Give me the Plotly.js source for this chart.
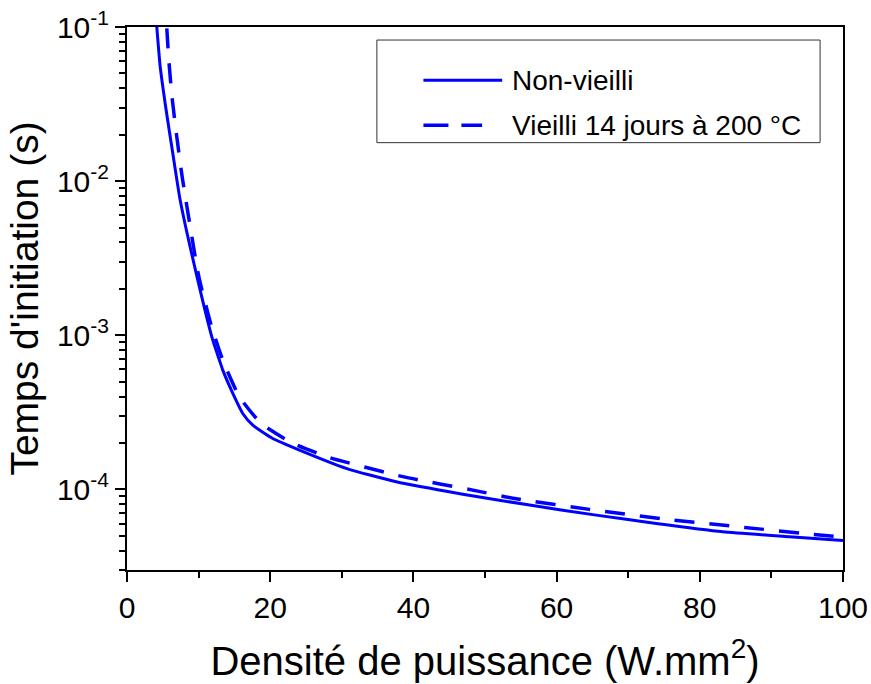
<!DOCTYPE html>
<html>
<head>
<meta charset="utf-8">
<script src="https://cdn.plot.ly/plotly-3.0.1.min.js"></script>
<style>html,body{margin:0;padding:0;background:#fff;}#chart{width:871px;height:684px;}</style>
</head>
<body>
<div id="chart"></div>
<script>
// Data
const seriesNames = ["Non-vieilli", "Vieilli 14 jours à 200 °C"];
const xSolid = [4.16, 4.64, 5.47, 6.40, 7.43, 9.57, 11.98, 12.91, 13.38, 14.78, 16.17, 17.57, 20.36, 24.09, 30.61, 37.60, 46.90, 56.22, 65.53, 73.91, 83.21, 92.53, 100];
const ySolid = [0.1, 0.0551, 0.0288, 0.0151, 0.00751, 0.00264, 9.29e-4, 6.89e-4, 5.94e-4, 4.20e-4, 3.11e-4, 2.61e-4, 2.14e-4, 1.80e-4, 1.37e-4, 1.12e-4, 9.31e-5, 7.91e-5, 6.81e-5, 6.01e-5, 5.31e-5, 4.93e-5, 4.67e-5];
const xDashed = [5.56, 5.84, 6.31, 6.96, 7.71, 9.85, 10.36, 11.75, 13.38, 15.71, 18.74, 23.16, 28.28, 38.52, 48.99, 54.36, 64.59, 75.53, 86.24, 96.72, 100];
const yDashed = [0.098, 0.0608, 0.0343, 0.0193, 0.01064, 0.00264, 0.00206, 0.001164, 6.89e-4, 3.98e-4, 2.68e-4, 1.99e-4, 1.61e-4, 1.21e-4, 9.75e-5, 8.69e-5, 7.42e-5, 6.38e-5, 5.67e-5, 5.06e-5, 4.9e-5];
const xTickVals = [0, 20, 40, 60, 80, 100];
const yTickVals = [1e-4, 1e-3, 1e-2, 1e-1];
const yTickText = ["10<sup>-4</sup>", "10<sup>-3</sup>", "10<sup>-2</sup>", "10<sup>-1</sup>"];
const xTitle = "Densité de puissance (W.mm<sup>2</sup>)";
const yTitle = "Temps d'initiation (s)";

const blue = "#0000ff";
const font = "Liberation Sans, Arial, sans-serif";

// minor tick positions on the log axis (2..9 per decade)
const yMinor = [];
for (let e = -5; e <= -2; e++) for (let m = 2; m <= 9; m++) yMinor.push(m * Math.pow(10, e));

const traces = [
  {x: xSolid, y: ySolid, name: seriesNames[0], mode: "lines", line: {color: blue, width: 3, shape: "spline", smoothing: 0.5}, showlegend: false},
  {x: xDashed, y: yDashed, name: seriesNames[1], mode: "lines", line: {color: blue, width: 3.5, dash: "20px,15px", shape: "spline", smoothing: 0.5}, showlegend: false}
];

// hand-built legend box to match the reference layout
const lx0 = 0.349, lx1 = 0.968, ly0 = 0.787, ly1 = 0.976;
const row1 = 0.902, row2 = 0.819;
const shapes = [
  {type: "rect", xref: "paper", yref: "paper", x0: lx0, x1: lx1, y0: ly0, y1: ly1, line: {color: "#333", width: 1}, fillcolor: "rgba(0,0,0,0)"},
  {type: "line", xref: "paper", yref: "paper", x0: 0.414, x1: 0.524, y0: row1, y1: row1, line: {color: blue, width: 3}},
  {type: "line", xref: "paper", yref: "paper", x0: 0.414, x1: 0.496, y0: row2, y1: row2, line: {color: blue, width: 3.5, dash: "25px,13px"}}
];
const annotations = [
  {xref: "paper", yref: "paper", x: 0.535, y: row1, xanchor: "left", yanchor: "middle", text: seriesNames[0], showarrow: false, font: {family: font, size: 28, color: "#000"}},
  {xref: "paper", yref: "paper", x: 0.535, y: row2, xanchor: "left", yanchor: "middle", text: seriesNames[1], showarrow: false, font: {family: font, size: 28, color: "#000"}}
];

const layout = {
  width: 871, height: 684,
  margin: {l: 127, r: 28, t: 27, b: 114},
  paper_bgcolor: "#fff", plot_bgcolor: "#fff",
  font: {family: font, size: 30, color: "#000"},
  showlegend: false,
  xaxis: {
    range: [0, 100], tickvals: xTickVals, ticks: "outside", ticklen: 10, tickwidth: 2, tickcolor: "#000",
    showline: true, linecolor: "#000", linewidth: 2, mirror: true, showgrid: false, zeroline: false,
    minor: {dtick: 10, ticks: "outside", ticklen: 6, tickwidth: 2, tickcolor: "#000", showgrid: false},
    tickfont: {family: font, size: 30},
    title: {text: xTitle, font: {family: font, size: 40}, standoff: 24}
  },
  yaxis: {
    type: "log", range: [Math.log10(3e-5), -1], tickmode: "array", tickvals: yTickVals, ticktext: yTickText,
    ticks: "outside", ticklen: 10, tickwidth: 2, tickcolor: "#000",
    showline: true, linecolor: "#000", linewidth: 2, mirror: true, showgrid: false, zeroline: false,
    minor: {tickmode: "array", tickvals: yMinor, ticks: "outside", ticklen: 6, tickwidth: 2, tickcolor: "#000", showgrid: false},
    tickfont: {family: font, size: 30},
    title: {text: yTitle, font: {family: font, size: 39}, standoff: 6}
  },
  shapes: shapes,
  annotations: annotations
};

Plotly.newPlot("chart", traces, layout, {displayModeBar: false, staticPlot: true});
</script>
</body>
</html>
